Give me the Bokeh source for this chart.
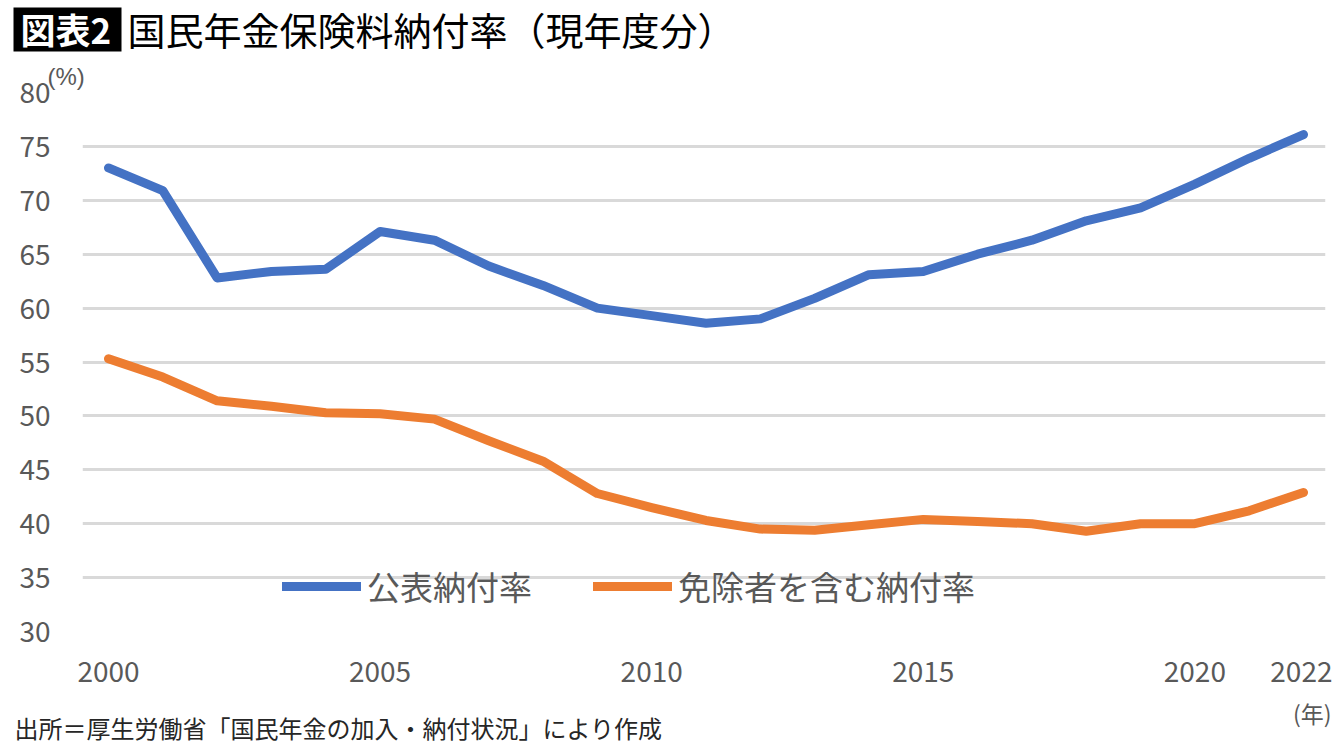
from bokeh.plotting import figure
from bokeh.models import FixedTicker, Legend, LegendItem, Range1d, Title
from bokeh.layouts import column
from bokeh.core.properties import value
from bokeh.embed import file_html
from bokeh.resources import INLINE

# ---- data ----
years = list(range(2000, 2023))
public_rate = [73.0, 70.9, 62.8, 63.4, 63.6, 67.1, 66.3, 63.9, 62.1, 60.0, 59.3, 58.6,
               59.0, 60.9, 63.1, 63.4, 65.0, 66.3, 68.1, 69.3, 71.5, 73.9, 76.1]
incl_exempt_rate = [55.3, 53.6, 51.4, 50.9, 50.3, 50.2, 49.7, 47.7, 45.8, 42.8, 41.5, 40.3,
                    39.5, 39.4, 39.9, 40.4, 40.2, 40.0, 39.3, 40.0, 40.0, 41.2, 42.9]
series_names = ["公表納付率", "免除者を含む納付率"]
x_ticks = [2000, 2005, 2010, 2015, 2020, 2022]
y_ticks = [30, 35, 40, 45, 50, 55, 60, 65, 70, 75, 80]
title_tag = "図表2"
title_text = "国民年金保険料納付率（現年度分）"
y_unit = "(%)"
x_unit = "(年)"
source_text = "出所＝厚生労働省「国民年金の加入・納付状況」により作成"

FONT = "Noto Sans CJK JP"
BLUE = "#4472C4"
ORANGE = "#ED7D31"
GRAY = "#595959"
W = 1332


def panel(height):
    f = figure(frame_width=W, frame_height=height, title=None,
               output_backend="svg", toolbar_location=None,
               x_range=Range1d(0, W), y_range=Range1d(height, 0),
               x_axis_location=None, y_axis_location=None,
               min_border=0, min_border_left=0, min_border_right=0,
               min_border_top=0, min_border_bottom=0, frame_align=False)
    f.grid.visible = False
    f.outline_line_color = None
    f.background_fill_color = "white"
    f.border_fill_color = "white"
    return f


# ---- header: title ----
H_TOP = 56
head = panel(H_TOP)
head.quad(left=[13], right=[121], top=[7], bottom=[51], fill_color="black",
          line_color=None)
head.text(x=[20], y=[28], text=[title_tag], text_font=value(FONT),
          text_font_size="35px", text_font_style="bold", text_color="white",
          text_baseline="middle", text_align="left")
head.text(x=[127], y=[28], text=[title_text], text_font=value(FONT),
          text_font_size="38px", text_color="black",
          text_baseline="middle", text_align="left")

# ---- main chart ----
H_MAIN = 639
FL, FR = 82, 1325
FT, FB = 36, 575
PX_PER_YEAR = 1195 / 22
X0 = 2000 - (108 - FL) / PX_PER_YEAR
X1 = 2022 + (FR - 1303) / PX_PER_YEAR

p = figure(width=W, height=H_MAIN, output_backend="svg", toolbar_location=None,
           title=None, frame_align=False,
           x_range=Range1d(X0, X1), y_range=Range1d(30, 80),
           min_border_left=FL, min_border_right=W - FR,
           min_border_top=FT, min_border_bottom=H_MAIN - FB)
p.outline_line_color = None
p.background_fill_color = "white"
p.border_fill_color = "white"

p.xgrid.grid_line_color = None
p.ygrid.grid_line_color = "#D9D9D9"
p.ygrid.grid_line_width = 3
p.ygrid.ticker = FixedTicker(ticks=y_ticks)

for ax in (p.xaxis[0], p.yaxis[0]):
    ax.axis_line_color = None
    ax.major_tick_line_color = None
    ax.minor_tick_line_color = None
    ax.major_label_text_font = FONT
    ax.major_label_text_font_size = "28px"
    ax.major_label_text_color = GRAY
p.xaxis[0].ticker = FixedTicker(ticks=x_ticks)
p.yaxis[0].ticker = FixedTicker(ticks=y_ticks)
p.xaxis[0].major_label_standoff = 23
p.yaxis[0].major_label_standoff = 26

r1 = p.line(years, public_rate, line_color=BLUE, line_width=9,
            line_cap="round", line_join="round")
r2 = p.line(years, incl_exempt_rate, line_color=ORANGE, line_width=9,
            line_cap="round", line_join="round")

legend = Legend(items=[LegendItem(label=series_names[0], renderers=[r1]),
                       LegendItem(label=series_names[1], renderers=[r2])],
                orientation="horizontal", location=(200, 21),
                padding=0, margin=0, spacing=61, label_standoff=6,
                glyph_width=79, glyph_height=20,
                border_line_color=None, background_fill_alpha=0,
                label_text_font=FONT, label_text_font_size="33px",
                label_text_color=GRAY)
p.add_layout(legend)

p.add_layout(Title(text=y_unit, align="left", offset=-35, standoff=6,
                   text_font="Liberation Sans", text_font_size="24px",
                   text_font_style="normal", text_color=GRAY), "above")

# ---- footer: year unit and source ----
H_BOT = 51
foot = panel(H_BOT)
foot.text(x=[1331], y=[17], text=[x_unit], text_font=value(FONT),
          text_font_size="23px", text_color=GRAY,
          text_baseline="middle", text_align="right")
foot.text(x=[14], y=[32], text=[source_text], text_font=value(FONT),
          text_font_size="24px", text_color="#262626",
          text_baseline="middle", text_align="left")

layout = column(head, p, foot, spacing=0)
open("out.html", "w").write(file_html(layout, INLINE))
